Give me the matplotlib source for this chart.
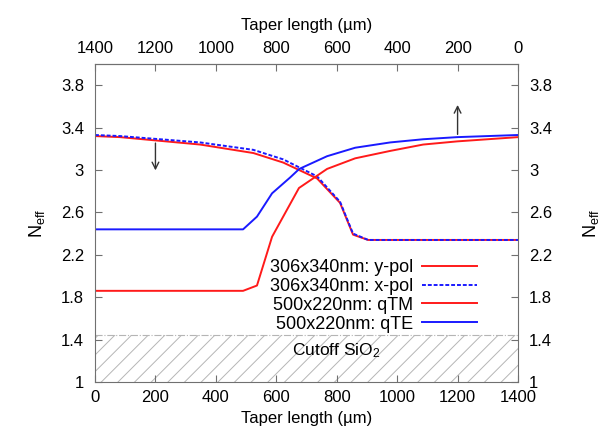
import matplotlib
matplotlib.use("Agg")
import matplotlib.pyplot as plt
from matplotlib.ticker import FormatStrFormatter

plt.rcParams['font.family'] = ['Liberation Sans', 'DejaVu Sans']
plt.rcParams['mathtext.default'] = 'regular'
plt.rcParams['font.size'] = 12
plt.rcParams['hatch.linewidth'] = 0.7

# taper length on bottom axis (500x220nm modes)
qtm_x = [0, 490, 536, 586, 675, 768, 861, 977, 1086, 1199, 1400]
qtm_y = [1.86, 1.86, 1.91, 2.37, 2.83, 3.01, 3.11, 3.18, 3.24, 3.27, 3.31]
qte_x = [0, 490, 536, 586, 646, 676, 768, 861, 977, 1086, 1199, 1400]
qte_y = [2.44, 2.44, 2.56, 2.78, 2.93, 3.01, 3.13, 3.21, 3.26, 3.29, 3.31, 3.33]

# taper length on top axis (306x340nm modes)
sq_taper = [1400, 1317, 1052, 876, 777, 665, 589, 546, 496, 0]
ypol_y = [3.32, 3.31, 3.24, 3.16, 3.07, 2.92, 2.69, 2.39, 2.34, 2.34]
xpol_y = [3.33, 3.32, 3.26, 3.19, 3.10, 2.94, 2.70, 2.40, 2.34, 2.34]

cutoff = 1.444
total_len = 1400

fig = plt.figure(figsize=(6.06, 4.41), dpi=100)
ax = fig.add_axes([0.1568, 0.1338, 0.698, 0.7211])

frame = '#707070'
for s in ax.spines.values():
    s.set_color(frame)

# cladding cutoff region
ax.fill_between([0, total_len], 1, cutoff, hatch='//', facecolor='none',
                edgecolor='#b5b5b5', linewidth=0, zorder=0)
ax.axhline(cutoff, color='#b5b5b5', lw=0.8, ls='-.', zorder=0)
ax.text(652, 1.30, 'Cutoff SiO$_2$', va='center', ha='left', fontsize=12.5)

sq_x = [total_len - t for t in sq_taper]
ax.plot(sq_x, ypol_y, color='#ff1a1a', lw=1.4, label='306x340nm: y-pol')
ax.plot(sq_x, xpol_y, color='#1a1aff', lw=1.4, ls=(0, (2, 1)), label='306x340nm: x-pol')
ax.plot(qtm_x, qtm_y, color='#ff1a1a', lw=1.4, label='500x220nm: qTM')
ax.plot(qte_x, qte_y, color='#1a1aff', lw=1.4, label='500x220nm: qTE')

ax.annotate('', xy=(200, 2.97), xytext=(200, 3.28),
            arrowprops=dict(arrowstyle='->', color='#333333', lw=1))
ax.annotate('', xy=(1200, 3.64), xytext=(1200, 3.31),
            arrowprops=dict(arrowstyle='->', color='#333333', lw=1))

ax.set_xlim(0, total_len)
ax.set_ylim(1, 4)
ax.set_xticks(range(0, 1401, 200))
ax.set_yticks([1, 1.4, 1.8, 2.2, 2.6, 3, 3.4, 3.8])
ax.yaxis.set_major_formatter(FormatStrFormatter('%g'))
ax.tick_params(direction='in', length=5, color=frame, pad=8,
               left=True, right=True, labelleft=True, labelright=True)
ax.tick_params(axis='x', pad=6)

ax.set_xlabel('Taper length (\u00b5m)', labelpad=4)
ax.set_ylabel('N$_{eff}$', labelpad=10, fontsize=13)

top = ax.secondary_xaxis('top', functions=(lambda x: total_len - x, lambda x: total_len - x))
top.set_xticks(range(0, 1401, 200))
top.tick_params(direction='in', length=5, color=frame, pad=6)
top.spines['top'].set_color(frame)
top.set_xlabel('Taper length (\u00b5m)', labelpad=8)

right = ax.secondary_yaxis('right')
right.set_yticks([])
right.spines['right'].set_visible(False)
right.set_ylabel('N$_{eff}$', labelpad=45, fontsize=13)

leg = ax.legend(loc='upper right', bbox_to_anchor=(0.932, 0.426), frameon=False,
                markerfirst=False, handlelength=3.0, handletextpad=0.5,
                labelspacing=0.1, borderpad=0.2, fontsize=13)

fig.savefig('out.png', dpi=100)
